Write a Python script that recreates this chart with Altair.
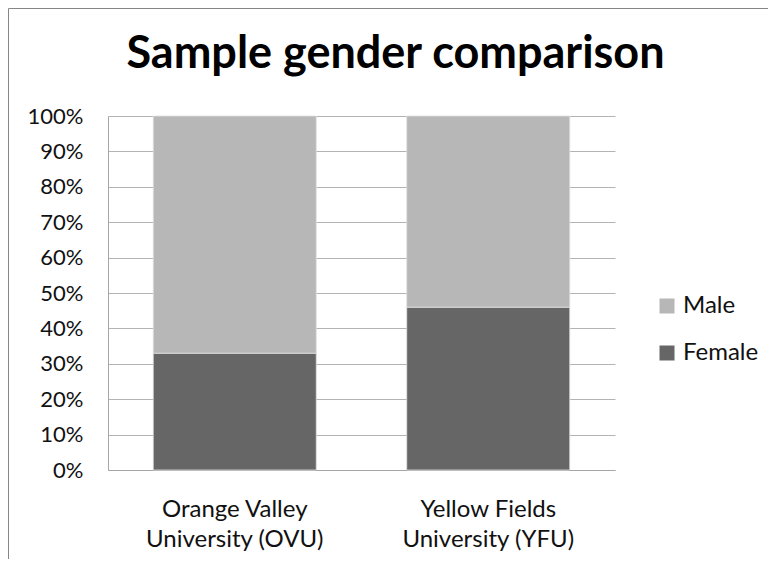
import altair as alt
import pandas as pd

universities = ["Orange Valley University (OVU)", "Yellow Fields University (YFU)"]
female_share = [0.33, 0.46]
male_share = [0.67, 0.54]
genders = ["Male", "Female"]
gender_colors = ["#b7b7b7", "#666666"]
y_ticks = [0, 0.1, 0.2, 0.3, 0.4, 0.5, 0.6, 0.7, 0.8, 0.9, 1.0]

rows = []
for u, f, m in zip(universities, female_share, male_share):
    rows.append({"University": u, "Gender": "Female", "Share": f, "order": 0})
    rows.append({"University": u, "Gender": "Male", "Share": m, "order": 1})
df = pd.DataFrame(rows)

W, H = 507, 354
PL, PT, PR, PB = 100, 108, 153, 89
FONT = "Lato"

bars = alt.Chart(df).mark_bar(stroke="#e0e0e0", strokeWidth=0.8).encode(
    x=alt.X("University:N", sort=universities, title=None,
            scale=alt.Scale(paddingInner=0.357, paddingOuter=0.1785),
            axis=alt.Axis(labelAngle=0, ticks=False, labelFontSize=24, labelFont=FONT,
                          labelColor="#111111", labelPadding=27, labelLineHeight=30,
                          domainColor="#a6a6a6",
                          labelExpr="split(replace(datum.label, ' University', '|University'), '|')")),
    y=alt.Y("Share:Q", stack="zero", title=None,
            scale=alt.Scale(domain=[0, 1], nice=False),
            axis=alt.Axis(values=y_ticks, format=".0%", ticks=False, labelFontSize=22,
                          labelFont=FONT, labelColor="#111111", labelPadding=25,
                          domainColor="#a6a6a6", gridColor="#b3b3b3", grid=True)),
    color=alt.Color("Gender:N", sort=genders,
                    scale=alt.Scale(domain=genders, range=gender_colors),
                    legend=alt.Legend(title=None, orient="none", legendX=547, legendY=178,
                                      symbolType="square", symbolSize=225, symbolStrokeWidth=0,
                                      labelFontSize=24, labelFont=FONT, labelColor="#111111",
                                      labelOffset=4, rowPadding=23)),
    order=alt.Order("order:Q", sort="ascending"),
)

frame_data = alt.Chart(pd.DataFrame({"a": [0]}))
frame_left = frame_data.mark_rule(color="#868686", strokeWidth=1).encode(
    x=alt.value(-PL + 0.5), y=alt.value(-PT + 0.5), y2=alt.value(H + PB))
frame_top = frame_data.mark_rule(color="#868686", strokeWidth=1).encode(
    x=alt.value(-PL + 0.5), x2=alt.value(W + PR), y=alt.value(-PT + 0.5))

chart = alt.layer(bars, frame_left, frame_top).properties(
    width=W, height=H,
    title=alt.Title("Sample gender comparison", font=FONT, fontSize=45, fontWeight="bold",
                    color="#000000", anchor="middle", baseline="alphabetic", offset=-105, dx=34),
    autosize=alt.AutoSizeParams(type="none"),
    padding={"left": PL, "top": PT, "right": PR, "bottom": PB},
).configure_view(stroke=None)

chart.save("out.html", embed_options={"renderer": "svg", "actions": False})
